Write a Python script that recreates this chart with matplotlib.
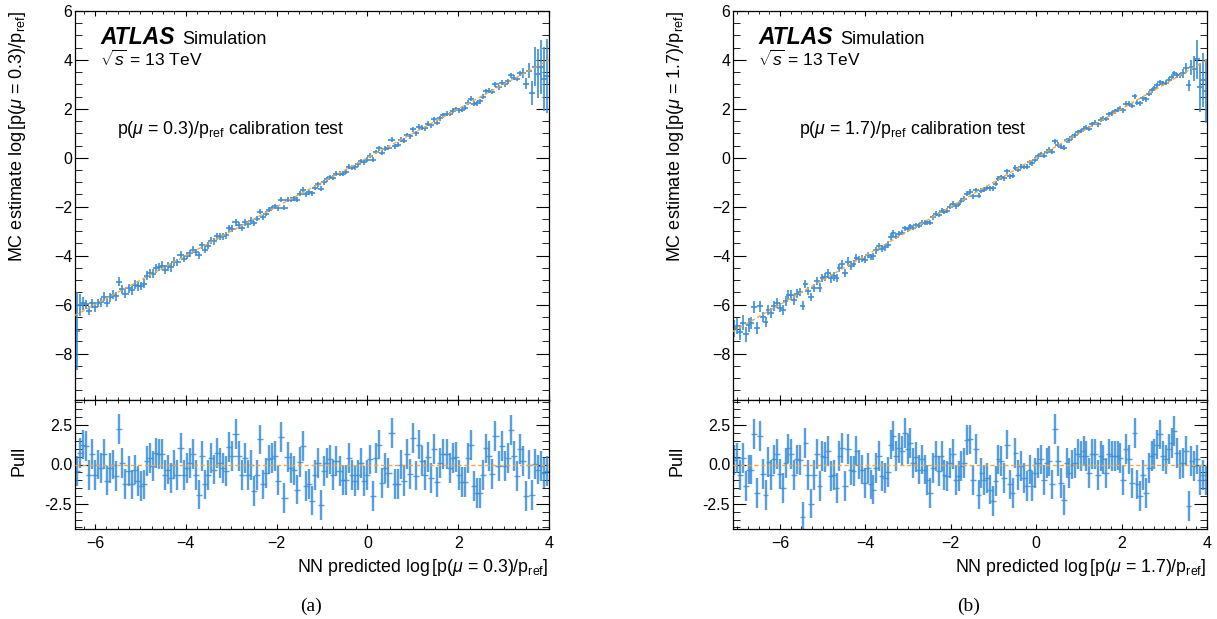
import numpy as np
import matplotlib
matplotlib.use("Agg")
import matplotlib.pyplot as plt
from matplotlib.ticker import MultipleLocator, FormatStrFormatter

plt.rcParams['font.family'] = ['Liberation Sans', 'DejaVu Sans']
plt.rcParams['mathtext.fontset'] = 'custom'
plt.rcParams['mathtext.rm'] = 'Liberation Sans'
plt.rcParams['mathtext.it'] = 'Liberation Sans:italic'
plt.rcParams['mathtext.bf'] = 'Liberation Sans:bold'

# ---- panel (a): mu = 0.3 ----
range_a = (-6.44, 4.0)
pull_a = [
    -0.42, 0.74, 1.27, 1.17, -0.64, 0.68, -0.64, 0.0, -0.21, 0.64,
    -1.02, -0.21, 0.0, -0.74, 2.23, 0.11, -1.23, -0.42, -1.27, -0.32,
    -1.06, -1.38, -1.27, 0.21, 0.42, -0.11, 0.74, 0.68, 0.64, -0.64,
    -0.32, -0.85, 0.0, -0.64, 1.06, -0.64, -0.21, 0.11, 0.64, -0.64,
    -1.91, 0.53, -1.27, -0.64, 0.42, -0.32, 0.74, 0.11, -0.21, -0.42,
    1.10, 0.53, 1.95, 0.53,
    -0.68, 0.42, -0.64, -0.04, -1.70, -0.64, 1.59, -1.27, -0.53, 0.32,
    0.42, 0.53, -1.02, 1.74, -2.12, 0.47, -0.21, -0.38, -1.59, 0.17,
    1.17, -1.38, -1.23, -2.29, -0.64, 0.11, -2.55, -0.42, 0.11, 0.32,
    -0.64, 0.21, -0.42, -0.96, -0.96, 0.42, -0.64, -1.06, -0.64, 0.11,
    -1.06, -0.64, 0.32, -2.02, 0.42, 1.27, -1.17, -0.21, -0.53, 2.02,
    -1.23, -1.23, 0.0, -1.06, 0.64, -0.59, 1.70, -0.70, 1.27, 0.21,
    -0.64, 0.47, -0.85, 0.96, -1.10, 0.11, 0.64, 0.64, -0.21, 0.42,
    0.47, -0.64, -1.10, -1.10, 0.42, 1.23, -1.38, -1.80, -1.80, -0.64,
    1.02, 0.53, -0.59, 1.80, -0.11, 1.17, -0.11, 0.42, 2.17, 0.53,
    -0.74, 0.96, 0.25, -2.02, 0.0, -1.95, 0.04, -0.32, -0.11, -0.53,
    -0.42,
]
# MC uncertainty per bin (main pad)
sigma_a = ([1.6, 0.45, 0.25] + [0.18] * 30 + [0.14] * 25 + [0.1] * 88
           + [0.2, 0.23, 0.3, 0.5, 0.8, 1.0, 1.1, 1.3, 1.5])

# ---- panel (b): mu = 1.7 ----
range_b = (-7.1, 4.0)
pull_b = [
    0.30, 0.42, -0.64, 0.42, -1.38, -0.32, -0.32, 1.95, -1.80, 1.80,
    -0.59, -1.95, 0.17, -0.64, 0.32, 0.68, -0.59, -1.49, 0.11, 1.02,
    0.64, -0.64, 0.32, 0.30, -3.35, 1.38, -0.68, -2.48, -0.64, 0.68,
    -1.38, 0.53, 0.47, 0.85, -0.74, -0.64, -1.49, 0.53, 1.06, -1.38,
    0.96, -0.38, -0.42, 0.85, 0.0, -0.32, -1.17, -0.21, -1.27, -1.59,
    -0.21, 0.53, -0.74, -0.85,
    -0.49, 1.27, 1.80, 0.53, 1.06, 0.85, 2.02, 0.96, 1.38, 0.11,
    0.49, -0.32, 0.32, -0.32, -0.96, -1.80, -0.21, 0.53, -0.42, 0.53,
    -0.64, -0.74, 0.11, 0.64, -0.96, -0.74, -0.11, 0.11, 1.53,
    1.59, -0.96, 1.00, -1.91, -0.53, -0.96, -0.85, -1.59, -2.34, -1.06,
    0.32, 0.21, -0.85, 1.27, -1.27, -1.80, 0.74, -0.64, -0.11, -0.85,
    -1.38, -0.32, -1.38, -0.53, 0.11, 0.32, -0.96, 0.11, 0.21, -1.27,
    2.23, 0.21, -1.17, -2.23, 0.11, -0.53, 0.0, 0.11, 0.64, 0.53,
    0.85, 0.53, -0.53, 0.64, 0.64, -0.64, 0.53, 0.32, -0.53, 0.64,
    0.53, 0.53, 0.57, 0.42, -0.96, 0.96, 0.32, -1.17, 2.02, -1.27,
    -2.02, -0.64, -1.80, -0.21, 0.53, 0.64, 1.27, 1.91, 0.53, 0.32,
    0.96, 1.38, 2.12, 0.74, 0.0, 0.11, 0.85, -2.61, 0.21, -0.11,
    0.32, -0.96, -0.64, -0.96,
]
sigma_b = ([0.35, 0.33, 0.32, 0.3, 0.3, 0.28, 0.26, 0.25, 0.24, 0.22]
           + [0.2] * 12 + [0.17] * 20 + [0.14] * 15 + [0.1] * 101
           + [0.18, 0.2, 0.23, 0.3, 0.5, 0.8, 1.0, 1.1, 1.3])

pull_err = 0.95

BLUE = '#3a8edd'
ORANGE = '#f6a733'
W, H = 1217, 619


def style_axis(ax, xr, ylim, ymaj, ymin):
    ax.set_xlim(*xr)
    ax.set_ylim(*ylim)
    ax.xaxis.set_major_locator(MultipleLocator(2))
    ax.xaxis.set_minor_locator(MultipleLocator(0.25))
    ax.yaxis.set_major_locator(MultipleLocator(ymaj))
    ax.yaxis.set_minor_locator(MultipleLocator(ymin))
    ax.tick_params(which='both', direction='in', top=True, right=True, labelsize=11.5)
    ax.tick_params(axis='y', which='major', length=9.5, pad=2)
    ax.tick_params(axis='y', which='minor', length=5)
    ax.tick_params(axis='x', which='major', length=3.5, pad=5)
    ax.tick_params(axis='x', which='minor', length=2)
    for s in ax.spines.values():
        s.set_linewidth(0.9)


def panel(fig, left_px, right_px, xr, pulls, sigmas, mu, tag, calib_x):
    pulls = np.array(pulls)
    sigmas = np.array(sigmas)
    edges = np.linspace(xr[0], xr[1], len(pulls) + 1)
    centers = 0.5 * (edges[1:] + edges[:-1])
    width = edges[1:] - edges[:-1]
    mc = centers + pulls * sigmas

    l = left_px / W
    w = (right_px - left_px) / W
    ax = fig.add_axes([l, 1 - 400 / H, w, 389 / H])
    axp = fig.add_axes([l, 1 - 529 / H, w, 129 / H], sharex=ax)

    # main pad
    ax.errorbar(centers, mc, xerr=width, yerr=sigmas, fmt='none', ecolor=BLUE,
                elinewidth=1.4, alpha=0.85)
    ax.plot(xr, xr, ls=(0, (3, 2)), color=ORANGE, lw=1.0, zorder=3)
    style_axis(ax, xr, (-9.9, 6.0), 2, 0.5)
    ax.tick_params(labelbottom=False)
    ax.set_ylabel(r'MC estimate log$\,$[p($\mu$ = %s)/p$_{\rm ref}$]' % mu, fontsize=13, loc='top')
    ax.yaxis.set_label_coords(-0.1, 1.0)

    ax.text(0.053, 0.915, 'ATLAS', transform=ax.transAxes, fontsize=16.5,
            fontweight='bold', fontstyle='italic', va='baseline')
    ax.text(0.226, 0.915, 'Simulation', transform=ax.transAxes, fontsize=13, va='baseline')
    ax.text(0.053, 0.858, r'$\sqrt{s}$ = 13 TeV', transform=ax.transAxes, fontsize=12.5, va='baseline')
    ax.text(calib_x, 0.685, r'p($\mu$ = %s)/p$_{\rm ref}$ calibration test' % mu,
            transform=ax.transAxes, fontsize=12.8, va='baseline')

    # pull pad
    axp.errorbar(centers, pulls, yerr=pull_err, fmt='none', ecolor=BLUE, elinewidth=1.7, alpha=0.85)
    axp.errorbar(centers, pulls, xerr=width, fmt='none', ecolor=BLUE, elinewidth=1.0, alpha=0.85)
    axp.axhline(0, ls=(0, (3, 2)), color=ORANGE, lw=1.0, zorder=3)
    style_axis(axp, xr, (-4.1, 4.1), 2.5, 0.5)
    axp.yaxis.set_major_formatter(FormatStrFormatter('%.1f'))
    axp.set_ylabel('Pull', fontsize=13)
    axp.yaxis.set_label_coords(-0.1, 0.53)
    axp.set_xlabel(r'NN predicted log$\,$[p($\mu$ = %s)/p$_{\rm ref}$]' % mu, fontsize=12.8, loc='right')
    axp.xaxis.set_label_coords(1.0, -0.215)

    fig.text((left_px + right_px) / 2 / W - 0.001, 1 - 606 / H, tag, ha='center', va='center',
             fontsize=14, family='Liberation Serif')


fig = plt.figure(figsize=(W / 100, H / 100), dpi=100)
panel(fig, 75, 549, range_a, pull_a, sigma_a, '0.3', '(a)', 0.088)
panel(fig, 733, 1207, range_b, pull_b, sigma_b, '1.7', '(b)', 0.14)
fig.savefig('out.png', dpi=100)
